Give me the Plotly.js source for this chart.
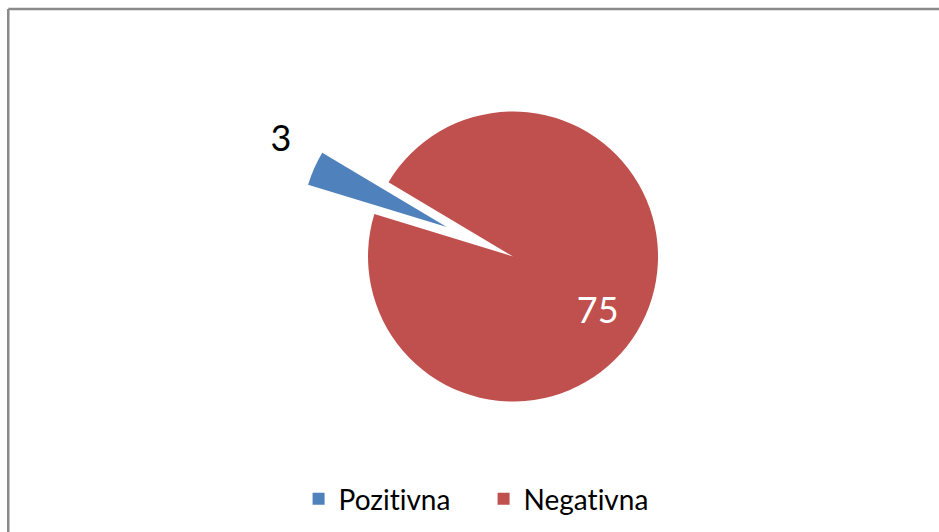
<!DOCTYPE html>
<html>
<head>
<meta charset="utf-8">
<script src="https://cdn.plot.ly/plotly-3.0.1.min.js"></script>
<style>
html,body{margin:0;padding:0;background:#fff;}
#chart{width:939px;height:532px;}
#chart text{font-variant-ligatures:none;font-feature-settings:"liga" 0,"dlig" 0;}
</style>
</head>
<body>
<div id="chart"></div>
<script>
const labels = ["Pozitivna", "Negativna"];
const values = [3, 75];
const colors = ["#4F81BD", "#C0504D"];
const pulls = [0.5, 0];
const textPositions = ["outside", "inside"];
const textColors = ["#000000", "#FFFFFF"];
const textTemplates = ["%{value}<br>\u00a0", "\u00a0<br>\u00a0\u00a0\u00a0\u00a0%{value}"];

const trace = {
  type: "pie",
  labels: labels,
  values: values,
  sort: false,
  direction: "clockwise",
  rotation: -73,
  pull: pulls,
  marker: { colors: colors, line: { width: 0 } },
  textinfo: "value",
  texttemplate: textTemplates,
  textposition: textPositions,
  insidetextorientation: "horizontal",
  textfont: { family: "Lato, 'Open Sans', sans-serif", size: 36, color: textColors },
  hoverinfo: "label+value",
  domain: { x: [0.3147, 0.7780], y: [0.1090, 0.9267] }
};

const layout = {
  width: 939,
  height: 532,
  margin: { l: 0, r: 0, t: 0, b: 0 },
  paper_bgcolor: "#ffffff",
  showlegend: true,
  legend: {
    orientation: "h",
    x: 0.515, xanchor: "center",
    y: 0.062, yanchor: "middle",
    font: { family: "Lato, 'Open Sans', sans-serif", size: 28, color: "#000000" },
    traceorder: "normal",
    entrywidth: 140,
    entrywidthmode: "pixels"
  },
  shapes: [
    { type: "line", xref: "paper", yref: "paper", x0: 0.0088, x1: 1, y0: 0.9831, y1: 0.9831,
      line: { color: "#8a8a8a", width: 2.5 } },
    { type: "line", xref: "paper", yref: "paper", x0: 0.0088, x1: 0.0088, y0: 0, y1: 0.9831,
      line: { color: "#8a8a8a", width: 2.5 } }
  ]
};

Plotly.newPlot("chart", [trace], layout, { displayModeBar: false, staticPlot: true });
</script>
</body>
</html>
